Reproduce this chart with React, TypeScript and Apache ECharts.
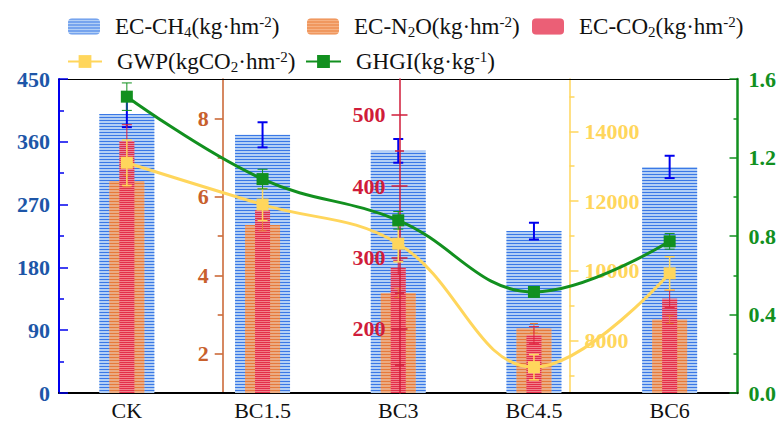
import React, { useEffect, useRef } from 'react';
import * as echarts from 'echarts';

const categories = ['CK', 'BC1.5', 'BC3', 'BC4.5', 'BC6'];
const ch4 = [400, 370, 347, 232, 324];
const ch4Err = [19, 18, 17, 12, 16];
const n2o = [6.4, 5.28, 3.55, 2.65, 2.87];
const n2oErr = [0.15, 0.15, 0.12, 0.12, 0.1];
const co2 = [463, 366, 286, 191, 242];
const co2Err = [23, 12, 10, 12, 12];
const gwp = [13100, 11900, 10780, 7240, 9930];
const gwpErr = [650, 460, 520, 365, 475];
const ghgi = [1.51, 1.09, 0.88, 0.515, 0.773];
const ghgiErr = [0.07, 0.05, 0.045, 0.02, 0.04];

const ch4Labels = [0, 90, 180, 270, 360, 450];
const n2oLabels = [2, 4, 6, 8];
const n2oMinor = [3, 5, 7];
const co2Labels = [200, 300, 400, 500];
const co2Minor = [150, 250, 350, 450];
const gwpLabels = [8000, 10000, 12000, 14000];
const gwpMinor = [7000, 9000, 11000, 13000, 15000];

const FONT = 'Liberation Serif';
const BLUE = '#0000ee';
const BLUE_L = '#1d56a8';
const ORANGE = '#c8602c';
const RED = '#d01c3a';
const YELLOW = '#ffd65c';
const GREEN = '#12901f';

const errData = (vals: number[], errs: number[]) => vals.map((v, i) => [i, v - errs[i], v + errs[i]]);

const makeErr = (color: string, lw: number, cap: number) => (params: any, api: any) => {
  const x = api.value(0);
  const p1 = api.coord([x, api.value(2)]);
  const p2 = api.coord([x, api.value(1)]);
  const st = { stroke: color, lineWidth: lw };
  return {
    type: 'group',
    children: [
      { type: 'line', shape: { x1: p1[0], y1: p1[1], x2: p2[0], y2: p2[1] }, style: st },
      { type: 'line', shape: { x1: p1[0] - cap / 2, y1: p1[1], x2: p1[0] + cap / 2, y2: p1[1] }, style: st },
      { type: 'line', shape: { x1: p2[0] - cap / 2, y1: p2[1], x2: p2[0] + cap / 2, y2: p2[1] }, style: st },
    ],
  };
};

const plain = (v: number) => String(v);
const labelFont = (color: string) => ({ fontFamily: FONT, fontWeight: 'bold' as const, fontSize: 22, color, formatter: plain });

const legendNames: Record<string, string> = {
  CH4: 'EC-CH{sub|4}(kg·hm{sup|-2})',
  N2O: 'EC-N{sub|2}O(kg·hm{sup|-2})',
  CO2: 'EC-CO{sub|2}(kg·hm{sup|-2})',
  GWP: 'GWP(kgCO{sub|2}·hm{sup|-2})',
  GHGI: 'GHGI(kg·kg{sup|-1})',
};

const mkLegend = (name: string, left: number, top: number, w: number, h: number) => ({
  data: [name],
  left,
  top,
  padding: 0,
  itemWidth: w,
  itemHeight: h,
  formatter: (n: string) => legendNames[n],
  textStyle: {
    fontFamily: FONT,
    fontSize: 23,
    color: '#111',
    padding: [0, 0, 0, 10],
    rich: {
      sub: { fontFamily: FONT, fontSize: 15, color: '#111', padding: [10, 0, 0, 0] },
      sup: { fontFamily: FONT, fontSize: 15, color: '#111', padding: [0, 0, 10, 0] },
    },
  },
});

const tickAxis = (opts: any) => ({
  type: 'value',
  splitLine: { show: false },
  ...opts,
});

export default function App() {
  const ref = useRef<HTMLDivElement>(null);
  useEffect(() => {
    const chart = echarts.init(ref.current as HTMLDivElement, null, { renderer: 'svg' });
    const option: any = {
      animation: false,
      backgroundColor: '#fff',
      textStyle: { fontFamily: FONT },
      grid: { left: 59, right: 40, top: 79, bottom: 26, containLabel: false },
      legend: [
        mkLegend('CH4', 68, 14, 32, 16),
        mkLegend('N2O', 307, 14, 32, 16),
        mkLegend('CO2', 532, 14, 32, 16),
        mkLegend('GWP', 67, 49, 34, 16),
        mkLegend('GHGI', 305, 49, 35, 16),
      ],
      xAxis: [
        {
          type: 'category',
          data: categories,
          position: 'bottom',
          axisLine: { onZero: false, lineStyle: { color: '#000', width: 2 } },
          axisTick: { alignWithLabel: true, inside: true, length: 8, lineStyle: { color: '#000', width: 1.5 } },
          axisLabel: { fontFamily: FONT, fontSize: 22, color: '#111', margin: 6 },
        },
        {
          type: 'category',
          data: categories,
          position: 'bottom',
          axisLine: { show: false, onZero: false },
          axisTick: { inside: true, length: 4, lineStyle: { color: '#000', width: 1.5 } },
          axisLabel: { show: false },
        },
        {
          type: 'category',
          data: categories,
          position: 'top',
          axisLine: { onZero: false, lineStyle: { color: '#000', width: 1 } },
          axisTick: { inside: true, length: 4, lineStyle: { color: '#000', width: 1 } },
          axisLabel: { show: false },
        },
      ],
      yAxis: [
        tickAxis({
          position: 'left', min: 0, max: 450, interval: 90,
          axisLine: { show: true, lineStyle: { color: BLUE, width: 2 } },
          axisTick: { show: true, inside: true, length: 9, lineStyle: { color: BLUE, width: 1.5 } },
          minorTick: { show: true, splitNumber: 2, length: 5, lineStyle: { color: BLUE, width: 1.5 } },
          axisLabel: { ...labelFont(BLUE_L), margin: 9, customValues: ch4Labels },
        }),
        tickAxis({
          position: 'left', offset: -163.7, min: 1, max: 9,
          axisLine: { show: true, lineStyle: { color: ORANGE, width: 1.5 } },
          axisTick: { show: true, inside: false, length: 8, customValues: n2oLabels, lineStyle: { color: ORANGE, width: 1.5 } },
          axisLabel: { ...labelFont(ORANGE), margin: 14, customValues: n2oLabels },
        }),
        tickAxis({
          position: 'left', offset: -163.7, min: 1, max: 9,
          axisLine: { show: false },
          axisTick: { show: true, inside: false, length: 5, customValues: n2oMinor, lineStyle: { color: ORANGE, width: 1.5 } },
          axisLabel: { show: false },
        }),
        tickAxis({
          position: 'left', offset: -340.5, min: 110, max: 550, z: 6,
          axisLine: { show: true, lineStyle: { color: RED, width: 1.5 } },
          axisTick: { show: true, inside: false, length: 8, customValues: co2Labels, lineStyle: { color: RED, width: 1.5 } },
          axisLabel: { ...labelFont(RED), margin: 14, customValues: co2Labels },
        }),
        tickAxis({
          position: 'left', offset: -340.5, min: 110, max: 550, z: 6,
          axisLine: { show: false },
          axisTick: { show: true, inside: true, length: 8, customValues: co2Labels, lineStyle: { color: RED, width: 1.5 } },
          axisLabel: { show: false },
        }),
        tickAxis({
          position: 'left', offset: -340.5, min: 110, max: 550, z: 6,
          axisLine: { show: false },
          axisTick: { show: true, inside: false, length: 4.5, customValues: co2Minor, lineStyle: { color: RED, width: 1.5 } },
          axisLabel: { show: false },
        }),
        tickAxis({
          position: 'left', offset: -340.5, min: 110, max: 550, z: 6,
          axisLine: { show: false },
          axisTick: { show: true, inside: true, length: 4.5, customValues: co2Minor, lineStyle: { color: RED, width: 1.5 } },
          axisLabel: { show: false },
        }),
        tickAxis({
          position: 'right', offset: -168, min: 6500, max: 15500,
          axisLine: { show: true, lineStyle: { color: YELLOW, width: 1.5 } },
          axisTick: { show: true, inside: false, length: 9, customValues: gwpLabels, lineStyle: { color: YELLOW, width: 1.5 } },
          axisLabel: { ...labelFont(YELLOW), margin: 15, customValues: gwpLabels },
        }),
        tickAxis({
          position: 'right', offset: -168, min: 6500, max: 15500,
          axisLine: { show: false },
          axisTick: { show: true, inside: false, length: 5, customValues: gwpMinor, lineStyle: { color: YELLOW, width: 1.5 } },
          axisLabel: { show: false },
        }),
        tickAxis({
          position: 'right', min: 0, max: 1.6, interval: 0.4,
          axisLine: { show: true, lineStyle: { color: GREEN, width: 2.5 } },
          axisTick: { show: true, inside: true, length: 8, lineStyle: { color: GREEN, width: 1.5 } },
          minorTick: { show: true, splitNumber: 2, length: 4, lineStyle: { color: GREEN, width: 1.5 } },
          axisLabel: { ...labelFont(GREEN), margin: 11, formatter: (v: number) => v.toFixed(1) },
        }),
      ],
      series: [
        {
          name: 'CH4', type: 'bar', xAxisIndex: 0, yAxisIndex: 0, data: ch4, barWidth: 55, clip: true, z: 2,
          itemStyle: {
            color: '#b3cff5',
            decal: { symbol: 'rect', symbolSize: 1, dashArrayX: [10, 0], dashArrayY: [1, 2], color: '#3a78e6', rotation: 0 },
          },
        },
        {
          name: 'N2O', type: 'bar', xAxisIndex: 1, yAxisIndex: 1, data: n2o, barWidth: 35, clip: true, z: 3,
          itemStyle: {
            color: '#f4a46e', opacity: 0.85,
            decal: { symbol: 'rect', symbolSize: 1, dashArrayX: [10, 0], dashArrayY: [1, 2], color: '#e8742e', rotation: 0 },
          },
        },
        {
          name: 'CO2', type: 'bar', xAxisIndex: 2, yAxisIndex: 3, data: co2, barWidth: 15, clip: true, z: 4,
          itemStyle: {
            color: '#f27a8e', opacity: 0.85,
            decal: { symbol: 'rect', symbolSize: 1, dashArrayX: [10, 0], dashArrayY: [1, 1], color: '#e0203e', rotation: 0 },
          },
        },
        {
          type: 'custom', xAxisIndex: 0, yAxisIndex: 0, z: 5, silent: true,
          renderItem: makeErr(BLUE, 2, 10), data: errData(ch4, ch4Err), encode: { x: 0, y: [1, 2] },
        },
        {
          type: 'custom', xAxisIndex: 0, yAxisIndex: 1, z: 5, silent: true,
          renderItem: makeErr('#e8803c', 1, 8), data: errData(n2o, n2oErr), encode: { x: 0, y: [1, 2] },
        },
        {
          type: 'custom', xAxisIndex: 0, yAxisIndex: 3, z: 5, silent: true,
          renderItem: makeErr('#e0203e', 1, 10), data: errData(co2, co2Err), encode: { x: 0, y: [1, 2] },
        },
        {
          name: 'GWP', type: 'line', xAxisIndex: 0, yAxisIndex: 7, data: gwp, smooth: 0.4, z: 8,
          symbol: 'rect', symbolSize: 12,
          lineStyle: { color: YELLOW, width: 3 }, itemStyle: { color: YELLOW },
        },
        {
          type: 'custom', xAxisIndex: 0, yAxisIndex: 7, z: 9, silent: true,
          renderItem: makeErr(YELLOW, 1.5, 10), data: errData(gwp, gwpErr), encode: { x: 0, y: [1, 2] },
        },
        {
          name: 'GHGI', type: 'line', xAxisIndex: 0, yAxisIndex: 9, data: ghgi, smooth: 0.4, z: 10,
          symbol: 'rect', symbolSize: 12,
          lineStyle: { color: GREEN, width: 3 }, itemStyle: { color: GREEN },
        },
        {
          type: 'custom', xAxisIndex: 0, yAxisIndex: 9, z: 11, silent: true,
          renderItem: makeErr(GREEN, 1, 10), data: errData(ghgi, ghgiErr), encode: { x: 0, y: [1, 2] },
        },
      ],
    };
    chart.setOption(option);
    return () => chart.dispose();
  }, []);
  return <div ref={ref} style={{ position: 'fixed', left: 0, top: 0, width: 779, height: 421 }} />;
}
